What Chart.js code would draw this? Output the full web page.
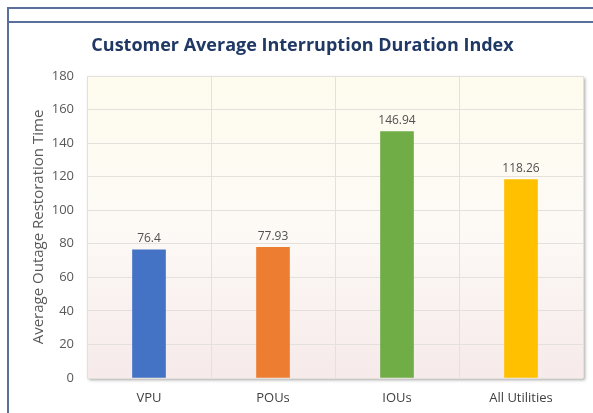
<!DOCTYPE html>
<html><head><meta charset="utf-8">
<script src="https://cdn.jsdelivr.net/npm/chart.js@4.4.0/dist/chart.umd.min.js"></script>
<style>
html,body{margin:0;padding:0;background:#fff;}
#wrap{position:relative;width:593px;height:413px;overflow:hidden;}
.ln{position:absolute;background:#5a6f9c;}
canvas{position:absolute;left:0;top:0;}
</style></head>
<body>
<div id="wrap">
<div class="ln" style="left:8px;top:7px;width:600px;height:2px;"></div>
<div class="ln" style="left:8px;top:21px;width:600px;height:2px;"></div>
<div class="ln" style="left:7px;top:7px;width:2px;height:420px;"></div>
<canvas id="c" width="593" height="413"></canvas>
</div>
<script>
const categories = ["VPU", "POUs", "IOUs", "All Utilities"];
const values = [76.4, 77.93, 146.94, 118.26];
const valueLabels = ["76.4", "77.93", "146.94", "118.26"];
const barColors = ["#4472c4", "#ed7d31", "#70ad47", "#ffc000"];
const chartTitle = "Customer Average Interruption Duration Index";
const yTitle = "Average Outage Restoration Time";

const FONT = "'Open Sans', 'Noto Sans', sans-serif";

const bgPlugin = {
  id: 'bg',
  beforeDraw(chart) {
    const {ctx, chartArea: a} = chart;
    ctx.save();
    const g = ctx.createLinearGradient(0, a.top, 0, a.bottom);
    g.addColorStop(0, '#fefcee');
    g.addColorStop(0.5, '#fdfaf6');
    g.addColorStop(1, '#f6eaea');
    ctx.shadowColor = 'rgba(0,0,0,0.35)';
    ctx.shadowOffsetX = 2;
    ctx.shadowOffsetY = 2;
    ctx.shadowBlur = 3;
    ctx.fillStyle = g;
    ctx.fillRect(a.left, a.top, a.right - a.left, a.bottom - a.top);
    ctx.restore();
  }
};

const labelPlugin = {
  id: 'vlabels',
  afterDatasetsDraw(chart) {
    const {ctx} = chart;
    const meta = chart.getDatasetMeta(0);
    ctx.save();
    ctx.font = "12px " + FONT;
    ctx.fillStyle = '#505050';
    ctx.textAlign = 'center';
    ctx.textBaseline = 'bottom';
    meta.data.forEach((bar, i) => {
      ctx.fillText(valueLabels[i], bar.x, bar.y - 5);
    });
    ctx.restore();
  }
};

new Chart(document.getElementById('c'), {
  type: 'bar',
  data: {
    labels: categories,
    datasets: [{
      data: values,
      backgroundColor: barColors,
      borderWidth: 0,
      barThickness: 33
    }]
  },
  options: {
    responsive: false,
    animation: false,
    devicePixelRatio: 1,
    layout: { padding: { left: 22, right: 10, top: 0, bottom: 0 } },
    plugins: {
      legend: { display: false },
      tooltip: { enabled: false },
      title: {
        display: true,
        text: chartTitle,
        color: '#1f3864',
        font: { family: FONT, size: 18, weight: 'bold', lineHeight: 1.2 },
        padding: { top: 35, bottom: 19.4 }
      }
    },
    scales: {
      x: {
        grid: { color: '#e4e0dc', lineWidth: 1, offset: true, drawTicks: false },
        border: { display: false },
        ticks: { color: '#404040', font: { family: FONT, size: 13 }, padding: 12 },
        afterFit(s) { s.height = 35; }
      },
      y: {
        min: 0, max: 180,
        grid: { color: '#e4e0dc', lineWidth: 1, drawTicks: false },
        border: { display: false },
        ticks: { stepSize: 20, color: '#595959', font: { family: FONT, size: 13 }, padding: 13 },
        title: {
          display: true,
          text: yTitle,
          color: '#595959',
          font: { family: FONT, size: 15 },
          padding: { top: 8, bottom: 0 }
        },
        afterFit(s) { s.width = 65; }
      }
    }
  },
  plugins: [bgPlugin, labelPlugin]
});
</script>
</body></html>
